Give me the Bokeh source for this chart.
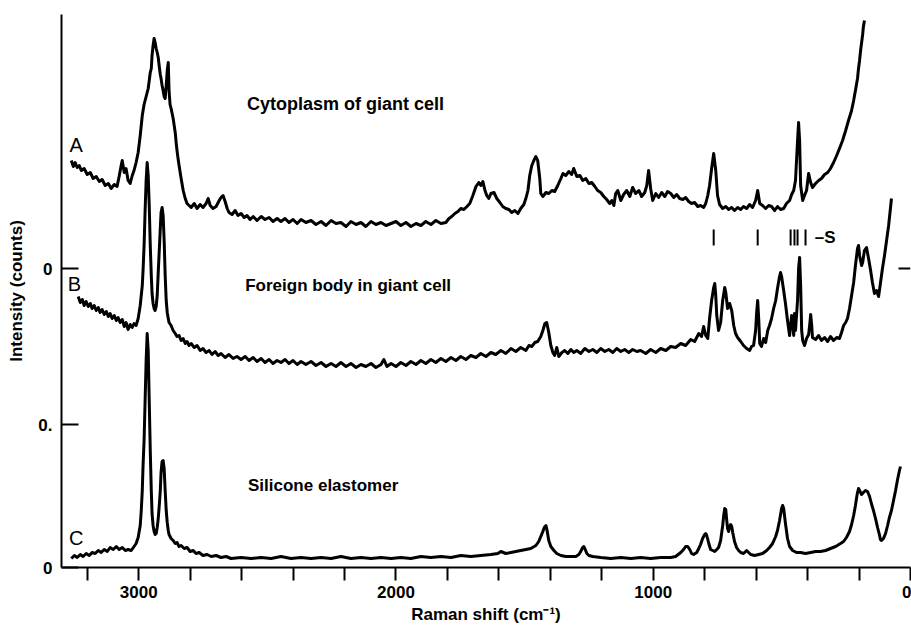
import math
from bokeh.plotting import figure
from bokeh.models import Range1d, FixedTicker, Label
from bokeh.embed import file_html
from bokeh.resources import INLINE

# ---- Trace A: cytoplasm of giant cell (Raman shift cm-1, intensity) ----
A_SHIFT = [
    3262, 3254, 3247, 3239, 3231, 3223, 3212, 3200, 3188, 3177,
    3165, 3153, 3142, 3130, 3118, 3107, 3095, 3084, 3076, 3068,
    3064, 3056, 3049, 3041, 3033, 3025, 3018, 3010, 3002, 2994,
    2986, 2979, 2971, 2963, 2959, 2955, 2951, 2948, 2944, 2940,
    2936, 2932, 2928, 2924, 2920, 2916, 2913, 2909, 2905, 2901,
    2897, 2893, 2889, 2885, 2882, 2878, 2874, 2866, 2858, 2854,
    2851, 2847, 2843, 2835, 2827, 2819, 2812, 2804, 2796, 2784,
    2773, 2761, 2750, 2738, 2730, 2722, 2711, 2699, 2687, 2680,
    2672, 2664, 2656, 2649, 2637, 2625, 2614, 2602, 2590, 2579,
    2567, 2555, 2540, 2524, 2509, 2493, 2478, 2462, 2447, 2431,
    2416, 2400, 2384, 2369, 2350, 2330, 2311, 2291, 2272, 2252,
    2233, 2214, 2194, 2175, 2155, 2136, 2117, 2097, 2078, 2058,
    2039, 2019, 2000, 1981, 1961, 1942, 1922, 1903, 1884, 1864,
    1845, 1825, 1806, 1794, 1783, 1771, 1759, 1748, 1736, 1724,
    1713, 1701, 1689, 1678, 1670, 1662, 1654, 1647, 1639, 1631,
    1619, 1608, 1596, 1585, 1573, 1561, 1550, 1538, 1526, 1515,
    1503, 1495, 1487, 1480, 1472, 1464, 1456, 1449, 1441, 1437,
    1429, 1417, 1406, 1394, 1383, 1371, 1359, 1351, 1340, 1328,
    1317, 1309, 1297, 1285, 1274, 1262, 1250, 1239, 1227, 1216,
    1204, 1192, 1181, 1169, 1161, 1153, 1146, 1138, 1126, 1115,
    1103, 1091, 1080, 1068, 1056, 1045, 1033, 1025, 1018, 1010,
    1002, 990, 979, 967, 955, 944, 932, 920, 909, 897,
    885, 874, 862, 851, 839, 827, 816, 804, 796, 788,
    781, 773, 765, 757, 750, 742, 730, 718, 707, 695,
    684, 672, 660, 649, 637, 625, 614, 602, 594, 586,
    575, 563, 551, 540, 528, 517, 505, 493, 482, 470,
    462, 454, 447, 439, 435, 431, 427, 419, 412, 404,
    396, 388, 381, 369, 357, 346, 334, 322, 311, 299,
    287, 276, 264, 252, 241, 229, 221, 214, 206, 202,
    198, 194, 190, 186, 183, 179,
]
A_INT = [
    407, 401, 405, 400, 402, 397, 399, 393, 395, 389,
    391, 386, 388, 382, 384, 379, 383, 381, 391, 402,
    407, 395, 399, 387, 384, 392, 397, 405, 415, 432,
    452, 463, 471, 479, 487, 495, 499, 512, 522, 529,
    525, 519, 515, 510, 501, 493, 489, 482, 477, 471,
    469, 482, 497, 505, 477, 463, 459, 449, 435, 424,
    417, 409, 402, 389, 377, 369, 364, 362, 360, 364,
    359, 363, 360, 364, 369, 362, 359, 361, 367, 370,
    372, 366, 359, 355, 353, 357, 352, 354, 350, 352,
    348, 351, 347, 351, 348, 350, 346, 349, 346, 349,
    345, 348, 344, 348, 345, 347, 343, 346, 342, 347,
    344, 345, 341, 346, 343, 345, 341, 346, 343, 345,
    342, 344, 346, 342, 345, 341, 344, 342, 346, 343,
    347, 344, 345, 349, 351, 354, 356, 359, 358, 361,
    364, 372, 381, 385, 382, 386, 377, 372, 369, 374,
    375, 369, 365, 361, 359, 358, 355, 357, 354, 359,
    363, 369, 377, 392, 402, 407, 411, 407, 389, 374,
    371, 375, 374, 377, 376, 382, 389, 394, 392, 396,
    393, 399, 391, 392, 387, 389, 384, 385, 381, 377,
    375, 371, 368, 364, 367, 362, 374, 377, 367, 373,
    377, 371, 380, 374, 377, 371, 375, 382, 397, 379,
    367, 374, 370, 375, 371, 376, 374, 370, 373, 369,
    368, 370, 366, 364, 365, 361, 362, 360, 364, 372,
    382, 399, 414, 397, 372, 363, 359, 361, 358, 360,
    357, 360, 358, 361, 359, 363, 360, 367, 377, 364,
    362, 359, 362, 361, 357, 361, 358, 359, 364, 367,
    373, 377, 387, 427, 445, 427, 382, 367, 372, 377,
    394, 385, 380, 384, 387, 389, 393, 395, 399, 405,
    412, 419, 427, 437, 447, 457, 467, 477, 489, 499,
    507, 517, 525, 533, 541, 547,
]

# ---- Trace B: foreign body in giant cell ----
B_SHIFT = [
    3235, 3227, 3219, 3212, 3204, 3196, 3188, 3181, 3173, 3165,
    3157, 3150, 3142, 3134, 3126, 3118, 3111, 3103, 3095, 3087,
    3080, 3072, 3064, 3056, 3049, 3041, 3033, 3025, 3018, 3010,
    3002, 2994, 2986, 2983, 2979, 2975, 2971, 2967, 2963, 2959,
    2955, 2951, 2948, 2944, 2940, 2936, 2932, 2928, 2924, 2920,
    2916, 2913, 2909, 2905, 2901, 2897, 2893, 2889, 2885, 2882,
    2874, 2866, 2858, 2851, 2843, 2835, 2827, 2819, 2812, 2804,
    2796, 2784, 2773, 2761, 2750, 2738, 2726, 2715, 2703, 2691,
    2680, 2664, 2649, 2633, 2618, 2602, 2586, 2571, 2555, 2540,
    2524, 2509, 2493, 2478, 2462, 2447, 2431, 2416, 2400, 2384,
    2369, 2350, 2330, 2311, 2291, 2272, 2252, 2233, 2214, 2194,
    2175, 2155, 2136, 2117, 2097, 2078, 2058, 2047, 2035, 2019,
    2000, 1981, 1961, 1942, 1922, 1903, 1884, 1864, 1845, 1825,
    1806, 1786, 1767, 1748, 1728, 1709, 1689, 1670, 1650, 1631,
    1612, 1592, 1573, 1553, 1534, 1515, 1495, 1483, 1472, 1460,
    1449, 1437, 1429, 1421, 1414, 1406, 1398, 1390, 1383, 1375,
    1367, 1355, 1344, 1332, 1320, 1309, 1297, 1282, 1266, 1250,
    1235, 1219, 1204, 1188, 1173, 1157, 1142, 1126, 1111, 1095,
    1080, 1064, 1049, 1029, 1010, 990, 971, 951, 932, 913,
    893, 874, 854, 839, 823, 812, 804, 796, 788, 781,
    773, 765, 761, 757, 753, 746, 738, 730, 722, 718,
    711, 703, 695, 687, 680, 672, 660, 649, 637, 625,
    618, 610, 602, 598, 594, 590, 586, 579, 571, 563,
    555, 548, 540, 532, 524, 517, 509, 505, 501, 493,
    486, 478, 470, 466, 462, 458, 454, 451, 447, 439,
    435, 431, 427, 423, 419, 412, 404, 396, 392, 388,
    384, 381, 369, 357, 346, 334, 322, 311, 299, 287,
    276, 268, 260, 252, 245, 237, 229, 221, 214, 206,
    202, 198, 190, 186, 179, 171, 163, 155, 148, 140,
    132, 124, 117, 109, 101, 93, 85, 78, 74,
]
B_INT = [
    271, 265, 268, 262, 266, 261, 264, 259, 262, 257,
    260, 255, 258, 253, 256, 251, 254, 249, 252, 247,
    250, 245, 248, 241, 245, 238, 243, 240, 244, 242,
    249, 262, 282, 297, 322, 357, 387, 405, 392, 362,
    322, 292, 274, 264, 259, 257, 261, 272, 295, 317,
    339, 355, 360, 352, 327, 292, 267, 255, 249, 245,
    242, 237, 234, 231, 232, 227, 229, 224, 226, 222,
    224, 220, 222, 217, 219, 215, 217, 213, 216, 212,
    214, 210, 213, 209, 211, 208, 211, 207, 210, 206,
    209, 205, 208, 204, 207, 205, 208, 204, 207, 203,
    206, 203, 206, 202, 205, 201, 204, 201, 205, 201,
    204, 200, 203, 201, 204, 200, 203, 208, 201, 204,
    201, 205, 202, 206, 203, 207, 204, 208, 205, 209,
    206, 210, 207, 211, 208, 212, 210, 214, 211, 215,
    213, 217, 214, 219, 216, 220, 217, 222, 221, 225,
    226, 231, 237, 244, 245, 235, 222, 215, 212, 220,
    211, 215, 217, 214, 218, 215, 217, 214, 219, 216,
    218, 215, 219, 216, 218, 215, 219, 216, 218, 215,
    218, 216, 217, 214, 218, 215, 219, 217, 221, 220,
    224, 222, 228, 226, 234, 231, 241, 232, 229, 249,
    267, 280, 284, 272, 252, 237, 245, 267, 280, 275,
    259, 264, 257, 242, 234, 230, 226, 222, 219, 217,
    221, 222, 237, 255, 267, 249, 224, 221, 229, 225,
    237, 242, 249, 259, 267, 279, 291, 295, 291, 277,
    264, 247, 232, 242, 252, 245, 232, 254, 237, 267,
    299, 310, 282, 237, 227, 222, 229, 233, 242, 253,
    242, 230, 228, 232, 227, 230, 226, 231, 227, 230,
    229, 235, 242, 245, 249, 259, 272, 285, 302, 319,
    322, 312, 302, 305, 317, 320, 309, 297, 285, 274,
    277, 271, 284, 299, 312, 327, 342, 359, 369,
]

# ---- Trace C: silicone elastomer ----
C_SHIFT = [
    3262, 3250, 3239, 3227, 3216, 3204, 3192, 3181, 3169, 3157,
    3146, 3134, 3122, 3111, 3099, 3087, 3076, 3064, 3052, 3041,
    3029, 3018, 3010, 3002, 2994, 2990, 2986, 2983, 2979, 2975,
    2971, 2967, 2963, 2959, 2955, 2951, 2948, 2944, 2940, 2936,
    2932, 2928, 2924, 2920, 2916, 2913, 2909, 2905, 2901, 2897,
    2893, 2889, 2885, 2882, 2874, 2866, 2858, 2851, 2843, 2835,
    2823, 2812, 2800, 2788, 2777, 2765, 2750, 2734, 2718, 2699,
    2680, 2660, 2641, 2602, 2563, 2524, 2485, 2447, 2408, 2369,
    2330, 2291, 2252, 2214, 2175, 2136, 2097, 2058, 2019, 1981,
    1942, 1903, 1864, 1825, 1786, 1748, 1709, 1670, 1631, 1604,
    1592, 1573, 1553, 1534, 1515, 1495, 1476, 1456, 1445, 1437,
    1429, 1425, 1421, 1417, 1414, 1410, 1406, 1398, 1386, 1375,
    1359, 1340, 1320, 1301, 1289, 1282, 1274, 1270, 1266, 1258,
    1250, 1235, 1204, 1165, 1126, 1087, 1049, 1010, 971, 932,
    913, 893, 882, 874, 866, 858, 851, 843, 831, 823,
    816, 808, 800, 796, 792, 784, 777, 769, 761, 753,
    746, 738, 730, 726, 722, 718, 715, 711, 707, 703,
    699, 695, 691, 684, 676, 668, 660, 649, 637, 629,
    621, 606, 590, 575, 559, 548, 536, 524, 517, 509,
    501, 497, 493, 486, 478, 470, 458, 443, 427, 408,
    388, 369, 350, 330, 311, 291, 272, 260, 249, 237,
    229, 221, 214, 210, 206, 202, 198, 190, 183, 175,
    167, 159, 152, 144, 136, 128, 120, 117, 113, 105,
    97, 89, 82, 74, 66, 58, 51, 43, 39,
]
C_INT = [
    9, 12, 10, 13, 11, 14, 12, 15, 14, 17,
    15, 18, 16, 20, 18, 21, 18, 20, 17, 18,
    17, 21, 24, 30, 42, 57, 77, 102, 127, 167,
    207, 234, 217, 167, 117, 77, 54, 42, 36, 33,
    34, 40, 49, 62, 77, 95, 106, 107, 99, 77,
    57, 45, 37, 33, 29, 27, 24, 25, 21, 22,
    19, 20, 16, 17, 14, 15, 12, 13, 11, 12,
    10, 11, 9, 10, 9, 10, 9, 11, 9, 10,
    9, 10, 9, 11, 9, 10, 9, 10, 9, 10,
    9, 11, 10, 11, 10, 12, 11, 12, 13, 14,
    16, 14, 15, 16, 17, 18, 19, 22, 26, 31,
    36, 39, 41, 42, 39, 33, 27, 21, 17, 14,
    12, 11, 11, 11, 13, 16, 20, 21, 19, 14,
    12, 11, 10, 9, 10, 9, 10, 9, 10, 10,
    11, 15, 18, 21, 21, 18, 14, 13, 15, 19,
    23, 29, 33, 34, 32, 24, 18, 17, 16, 18,
    20, 27, 42, 52, 59, 58, 49, 39, 36, 41,
    43, 41, 35, 26, 20, 17, 15, 14, 17, 15,
    13, 12, 13, 14, 17, 20, 24, 31, 37, 47,
    59, 62, 59, 44, 29, 21, 17, 15, 15, 14,
    15, 16, 16, 17, 19, 21, 24, 26, 30, 36,
    43, 52, 62, 69, 75, 79, 77, 73, 75, 77,
    76, 71, 64, 57, 49, 40, 32, 28, 27, 29,
    34, 42, 50, 57, 67, 77, 87, 97, 101,
]

# Sample (S) band markers above trace B
S_BANDS = [765, 594, 466, 451, 439, 408]

# Axis ticks
X_START, X_END = 3300, 0
X_TICKS = [3200, 3000, 2800, 2600, 2400, 2200, 2000, 1800, 1600, 1400,
           1200, 1000, 800, 600, 400, 200, 0]
X_LABELED = [3000, 2000, 1000, 0]
Y_TICKS = [0, 143, 299]
Y_TICK_LABELS = ["0", "0.", "0"]
RIGHT_TICKS = [299]

FONT = "Liberation Sans"

p = figure(width=911, height=631,
           x_range=Range1d(X_START, X_END), y_range=Range1d(0, 553),
           output_backend="svg", toolbar_location=None,
           min_border_left=61, min_border_right=1,
           min_border_top=14, min_border_bottom=64)
p.grid.visible = False
p.outline_line_color = None
p.background_fill_color = "white"
p.border_fill_color = "white"

for xs, ys in ((A_SHIFT, A_INT), (B_SHIFT, B_INT), (C_SHIFT, C_INT)):
    p.line(xs, ys, line_color="black", line_width=3, line_join="round")

p.segment(x0=S_BANDS, y0=322, x1=S_BANDS, y1=338,
          line_color="black", line_width=2)

# short tick on the right-hand edge at the middle "0" level
p.ray(x=[X_END] * len(RIGHT_TICKS), y=RIGHT_TICKS, length=12,
      length_units="screen", angle=math.pi, line_color="black", line_width=2)

# bottom axis
xa = p.xaxis[0]
xa.ticker = FixedTicker(ticks=X_TICKS)
xa.major_label_overrides = {t: (str(t) if t in X_LABELED else "") for t in X_TICKS}
xa.major_tick_out = 13
xa.major_tick_in = 0
xa.minor_tick_line_color = None
xa.axis_line_width = 2
xa.major_tick_line_width = 2
xa.axis_line_color = "black"
xa.major_tick_line_color = "black"
xa.major_label_standoff = 5
xa.major_label_text_font = FONT
xa.major_label_text_font_style = "bold"
xa.major_label_text_font_size = "17px"
xa.major_label_text_color = "black"
xa.axis_label = "Raman shift (cm\u207b\u00b9)"
xa.axis_label_text_font = FONT
xa.axis_label_text_font_style = "bold"
xa.axis_label_text_font_size = "17px"
xa.axis_label_text_color = "black"
xa.axis_label_standoff = 4

# left axis
ya = p.yaxis[0]
ya.ticker = FixedTicker(ticks=Y_TICKS)
ya.major_label_overrides = dict(zip(Y_TICKS, Y_TICK_LABELS))
ya.major_tick_in = 17
ya.major_tick_out = 0
ya.minor_tick_line_color = None
ya.axis_line_width = 2
ya.major_tick_line_width = 2
ya.axis_line_color = "black"
ya.major_tick_line_color = "black"
ya.major_label_standoff = 9
ya.major_label_text_font = FONT
ya.major_label_text_font_style = "bold"
ya.major_label_text_font_size = "17px"
ya.major_label_text_color = "black"
ya.axis_label = "Intensity (counts)"
ya.axis_label_text_font = FONT
ya.axis_label_text_font_style = "bold"
ya.axis_label_text_font_size = "17px"
ya.axis_label_text_color = "black"
ya.axis_label_standoff = 9

# trace letters
for txt, xx, yy in (("A", 3243, 423), ("B", 3250, 284), ("C", 3243, 30)):
    p.add_layout(Label(x=xx, y=yy, text=txt, text_font=FONT,
                       text_font_size="20px", text_align="center",
                       text_baseline="middle", text_color="black"))

# trace titles
for txt, xx, yy, fs in (("Cytoplasm of giant cell", 2579, 464, "18px"),
                        ("Foreign body in giant cell", 2586, 282, "17px"),
                        ("Silicone elastomer", 2575, 82, "17px")):
    p.add_layout(Label(x=xx, y=yy, text=txt, text_font=FONT,
                       text_font_style="bold", text_font_size=fs,
                       text_align="left", text_baseline="middle",
                       text_color="black"))

p.add_layout(Label(x=372, y=330, text="\u2013S", text_font=FONT,
                   text_font_style="bold", text_font_size="17px",
                   text_align="left", text_baseline="middle", text_color="black"))

open("out.html", "w").write(file_html(p, INLINE))
